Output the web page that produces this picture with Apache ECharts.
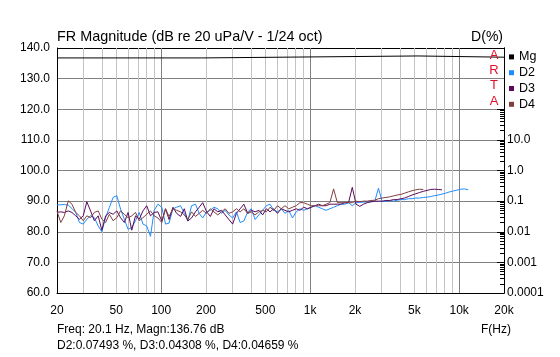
<!DOCTYPE html>
<html><head><meta charset="utf-8">
<script src="https://cdn.jsdelivr.net/npm/echarts@6/dist/echarts.min.js"></script>
<style>html,body{margin:0;padding:0;background:#fff}#c{width:560px;height:357px}</style>
</head><body><div id="c"></div>
<script>
// ---- data ----
const freqs = [
  20, 21.2, 22.4, 23.8, 25.2, 26.7, 28.3, 30, 31.7, 33.6,
  35.6, 37.8, 40, 42.4, 44.9, 47.6, 50.4, 53.4, 56.6, 60,
  63.5, 67.3, 71.3, 75.5, 80, 84.8, 89.8, 95.1, 101, 107,
  113, 120, 127, 135, 143, 151, 160, 170, 180, 190,
  202, 214, 226, 240, 254, 269, 285, 302, 320, 339,
  359, 381, 403, 427, 453, 480, 508, 538, 570, 604,
  640, 678, 718, 761, 806, 854, 905, 959, 1016, 1076,
  1140, 1208, 1280, 1356, 1437, 1522, 1613, 1709, 1810, 1918,
  2032, 2153, 2281, 2416, 2560, 2712, 2874, 3044, 3225, 3417,
  3620, 3836, 4064, 4305, 4561, 4833, 5120, 5424, 5747, 6089,
  6451, 6834, 7241, 7671, 8127, 8611, 9123, 9665, 10240, 10849,
  11494
];
const d2Pct = [
  0.0749, 0.0760, 0.0776, 0.0741, 0.0575, 0.0427, 0.0200, 0.0178, 0.0257, 0.0331,
  0.0288, 0.0155, 0.0100, 0.0288, 0.0617, 0.132, 0.151, 0.0550, 0.0257, 0.0120,
  0.0138, 0.0229, 0.0427, 0.0178, 0.0155, 0.00708, 0.0501, 0.0794, 0.0631, 0.0178,
  0.0191, 0.0562, 0.0631, 0.0708, 0.0398, 0.0224, 0.0708, 0.0794, 0.0398, 0.0282,
  0.0447, 0.0501, 0.0631, 0.0562, 0.0398, 0.0501, 0.0355, 0.0282, 0.0447, 0.0200,
  0.0224, 0.0447, 0.0562, 0.0251, 0.0355, 0.0501, 0.0708, 0.0794, 0.0501, 0.0447,
  0.0562, 0.0398, 0.0501, 0.0282, 0.0447, 0.0562, 0.0501, 0.0562, 0.0631, 0.0708,
  0.0631, 0.0562, 0.0501, 0.0562, 0.0631, 0.0708, 0.0794, 0.0794, 0.0891, 0.0708,
  0.0891, 0.0912, 0.0933, 0.0933, 0.0955, 0.0977, 0.263, 0.0955, 0.100, 0.105,
  0.100, 0.107, 0.112, 0.112, 0.120, 0.120, 0.126, 0.126, 0.132, 0.135,
  0.141, 0.151, 0.158, 0.170, 0.182, 0.200, 0.214, 0.229, 0.245, 0.251,
  0.234
];
const d3Pct = [
  0.0431, 0.0447, 0.0427, 0.0479, 0.0427, 0.0331, 0.0257, 0.0331, 0.0955, 0.0479,
  0.0229, 0.0331, 0.0112, 0.0331, 0.0427, 0.0372, 0.0479, 0.0288, 0.0200, 0.0427,
  0.0112, 0.0331, 0.0257, 0.0479, 0.0708, 0.0331, 0.0427, 0.0447, 0.0224, 0.0562,
  0.0251, 0.0631, 0.0398, 0.0316, 0.0562, 0.0224, 0.0282, 0.0447, 0.0631, 0.0891,
  0.0447, 0.0316, 0.0562, 0.0447, 0.0501, 0.0355, 0.0251, 0.0178, 0.0398, 0.0562,
  0.0794, 0.0398, 0.0501, 0.0447, 0.0501, 0.0355, 0.0562, 0.0447, 0.0562, 0.0398,
  0.0562, 0.0501, 0.0447, 0.0501, 0.0562, 0.0501, 0.0631, 0.0562, 0.0631, 0.0708,
  0.0794, 0.0708, 0.0708, 0.0794, 0.0794, 0.0794, 0.0794, 0.0891, 0.0891, 0.282,
  0.0794, 0.0676, 0.0794, 0.0891, 0.0955, 0.100, 0.100, 0.100, 0.105, 0.105,
  0.112, 0.112, 0.120, 0.126, 0.141, 0.158, 0.174, 0.191, 0.209, 0.224,
  0.240, 0.245, 0.240, 0.234
];
const d4Pct = [
  0.0466, 0.0200, 0.0331, 0.102, 0.0794, 0.0427, 0.0331, 0.0229, 0.0331, 0.0288,
  0.0427, 0.0479, 0.0257, 0.0200, 0.0372, 0.0229, 0.0288, 0.0479, 0.0372, 0.0288,
  0.0331, 0.0427, 0.0229, 0.0288, 0.0372, 0.0479, 0.0331, 0.0282, 0.0200, 0.0562,
  0.0316, 0.0562, 0.0501, 0.0447, 0.0355, 0.0251, 0.0447, 0.0316, 0.0398, 0.0501,
  0.0398, 0.0562, 0.0447, 0.0355, 0.0447, 0.0562, 0.0398, 0.0447, 0.0562, 0.0447,
  0.0562, 0.0398, 0.0447, 0.0355, 0.0447, 0.0501, 0.0447, 0.0631, 0.0501, 0.0708,
  0.0562, 0.0708, 0.0562, 0.0631, 0.0708, 0.0891, 0.0891, 0.0794, 0.0708, 0.0708,
  0.0708, 0.0708, 0.0794, 0.0891, 0.251, 0.0891, 0.0891, 0.0891, 0.0891, 0.0891,
  0.100, 0.0955, 0.100, 0.100, 0.105, 0.107, 0.120, 0.126, 0.132, 0.138,
  0.148, 0.158, 0.166, 0.182, 0.200, 0.219, 0.234, 0.245, 0.240
];
const magFreqs = [20, 187, 187, 5300, 5300, 20000];
const magDb = [136.76, 136.76, 137.4, 137.4, 137.0, 137.0];

const xLabelTicks = [20, 50, 100, 200, 500, 1000, 2000, 5000, 10000, 20000];
const xMinorGrid = [30, 40, 50, 60, 70, 80, 90, 200, 300, 400, 500, 600, 700, 800, 900,
  2000, 3000, 4000, 5000, 6000, 7000, 8000, 9000];
const xMajorGrid = [100, 1000, 10000];
const pctMajorTicks = [0.0001, 0.001, 0.01, 0.1, 1, 10, 100];
const pctMinorTicks = [
  0.0002, 0.0003, 0.0004, 0.0005, 0.0006, 0.0007, 0.0008, 0.0009,
  0.002, 0.003, 0.004, 0.005, 0.006, 0.007, 0.008, 0.009,
  0.02, 0.03, 0.04, 0.05, 0.06, 0.07, 0.08, 0.09,
  0.2, 0.3, 0.4, 0.5, 0.6, 0.7, 0.8, 0.9,
  2, 3, 4, 5, 6, 7, 8, 9,
  20, 30, 40, 50, 60, 70, 80, 90
];
const pctLabels = [0.0001, 0.001, 0.01, 0.1, 1, 10];
const seriesNames = ['Mg', 'D2', 'D3', 'D4'];
const seriesColors = ['#000000', '#1e8cff', '#5b0a5b', '#803f3f'];

// ---- chart ----
const FONT = "'Liberation Sans', Arial, sans-serif";
function pairs(xs, ys) { const out = []; for (let i = 0; i < ys.length; i++) out.push([xs[i], ys[i]]); return out; }
function txt(size, color) { return { fontSize: size, fontWeight: 'normal', color: color || '#000', fontFamily: FONT, lineHeight: 16 }; }

const chart = echarts.init(document.getElementById('c'), null, { renderer: 'canvas' });
const gridColors = ['#000000', '#808080', '#808080', '#808080', '#808080', '#808080', '#808080', '#808080', '#000000'];

chart.setOption({
  animation: false,
  backgroundColor: '#ffffff',
  grid: { left: 57, right: 56, top: 48, bottom: 64 },
  title: [
    { text: 'FR Magnitude (dB re 20 uPa/V - 1/24 oct)', left: 57, top: 29, padding: 0, textStyle: txt(14.4) },
    { text: 'D(%)', right: 57, top: 29, padding: 0, textStyle: txt(14) },
    { text: 'A\nR\nT\nA', left: 494, top: 47.5, padding: 0, textAlign: 'center',
      textStyle: { fontSize: 13, fontWeight: 'normal', color: '#e0102a', fontFamily: FONT, lineHeight: 15.3 } },
    { text: 'F(Hz)', left: 481, top: 322, padding: 0, textStyle: txt(12) },
    { text: 'Freq: 20.1 Hz, Magn:136.76 dB', left: 57, top: 322, padding: 0, textStyle: txt(12) },
    { text: 'D2:0.07493 %, D3:0.04308 %, D4:0.04659 %', left: 57, top: 338, padding: 0, textStyle: txt(12) }
  ],
  legend: {
    data: seriesNames, orient: 'vertical', left: 509, top: 49, padding: 0,
    icon: 'rect', itemWidth: 5, itemHeight: 5, itemGap: 0,
    textStyle: { fontSize: 12.5, color: '#000', fontFamily: FONT, lineHeight: 15.8 }
  },
  xAxis: [
    {
      type: 'log', logBase: 10, min: 20, max: 20000, position: 'bottom',
      axisLine: { show: true, lineStyle: { color: '#000', width: 1 } },
      axisTick: { show: true, inside: true, length: 245, customValues: xMinorGrid, lineStyle: { color: '#c4c4c4', width: 1 } },
      minorTick: { show: false },
      axisLabel: {
        customValues: xLabelTicks, margin: 12, color: '#000', fontSize: 12, fontFamily: FONT,
        formatter: v => (v >= 1000 ? (Math.round(v / 1000) + 'k') : String(Math.round(v)))
      },
      splitLine: { show: false }
    },
    {
      type: 'log', logBase: 10, min: 20, max: 20000, position: 'bottom',
      axisLine: { show: false },
      axisTick: { show: true, inside: true, length: 245, customValues: xMajorGrid, lineStyle: { color: '#808080', width: 1 } },
      axisLabel: { show: false },
      splitLine: { show: false }
    }
  ],
  yAxis: [
    {
      type: 'value', min: 60, max: 140, interval: 10, position: 'left',
      axisLine: { show: true, lineStyle: { color: '#000', width: 1 } },
      axisTick: { show: false },
      axisLabel: { margin: 7, color: '#000', fontSize: 12, fontFamily: FONT, formatter: v => v.toFixed(1) },
      splitLine: { show: true, lineStyle: { color: gridColors, width: 1 } }
    },
    {
      type: 'log', logBase: 10, min: 0.0001, max: 10000, position: 'right',
      axisLine: { show: true, lineStyle: { color: '#000', width: 1 } },
      axisTick: { show: true, inside: true, length: 7, customValues: pctMajorTicks, lineStyle: { color: '#000' } },
      minorTick: { show: false },
      axisLabel: {
        customValues: pctLabels, margin: 3, color: '#000', fontSize: 12, fontFamily: FONT,
        formatter: v => {
          const r = Number(v.toPrecision(1));
          return r >= 1 ? r.toFixed(1) : String(r);
        }
      },
      splitLine: { show: false }
    },
    {
      type: 'log', logBase: 10, min: 0.0001, max: 10000, position: 'right',
      axisLine: { show: true, lineStyle: { color: '#000', width: 1 } },
      axisTick: { show: true, inside: true, length: 4, customValues: pctMinorTicks, lineStyle: { color: '#000', width: 1 } },
      axisLabel: { show: false },
      splitLine: { show: false }
    }
  ],
  series: [
    { name: 'Mg', type: 'line', xAxisIndex: 0, yAxisIndex: 0, data: pairs(magFreqs, magDb),
      showSymbol: false, symbol: 'none', color: seriesColors[0], lineStyle: { width: 1, color: seriesColors[0] }, z: 5 },
    { name: 'D2', type: 'line', xAxisIndex: 0, yAxisIndex: 1, data: pairs(freqs, d2Pct),
      showSymbol: false, symbol: 'none', color: seriesColors[1], lineStyle: { width: 1, color: seriesColors[1] }, z: 3 },
    { name: 'D3', type: 'line', xAxisIndex: 0, yAxisIndex: 1, data: pairs(freqs, d3Pct),
      showSymbol: false, symbol: 'none', color: seriesColors[2], lineStyle: { width: 1, color: seriesColors[2] }, z: 4 },
    { name: 'D4', type: 'line', xAxisIndex: 0, yAxisIndex: 1, data: pairs(freqs, d4Pct),
      showSymbol: false, symbol: 'none', color: seriesColors[3], lineStyle: { width: 1, color: seriesColors[3] }, z: 4 }
  ]
});
</script></body></html>
